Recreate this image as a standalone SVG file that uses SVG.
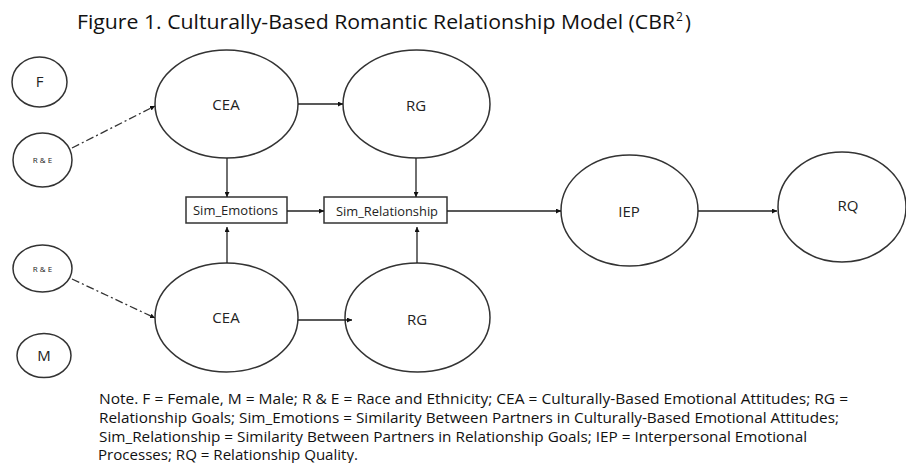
<svg xmlns="http://www.w3.org/2000/svg" width="906" height="463" viewBox="0 0 906 463">
<defs>
<style>
.node{fill:#fff;stroke:#333;stroke-width:1.5}
.lbl{font-family:"Open Sans","Liberation Sans",sans-serif;fill:#222;text-anchor:middle}
.edge{stroke:#222;stroke-width:1.3;fill:none}
.dd{stroke:#333;stroke-width:1.3;fill:none;stroke-dasharray:8 3 2 3}
.txt{font-family:"Open Sans","Liberation Sans",sans-serif;fill:#111}
</style>
<marker id="ah" viewBox="0 0 10 10" refX="10" refY="5" markerWidth="5" markerHeight="5" orient="auto" markerUnits="userSpaceOnUse">
<path d="M0,0 L10,5 L0,10 z" fill="#111"/>
</marker>
</defs>
<rect width="906" height="463" fill="#fff"/>
<g id="title">
<text class="txt" x="77" y="29" font-size="20" textLength="598" lengthAdjust="spacingAndGlyphs">Figure 1. Culturally-Based Romantic Relationship Model (CBR</text>
<text class="txt" x="676" y="21" font-size="12">2</text>
<text class="txt" x="685" y="29" font-size="20">)</text>
</g>
<g id="F"><ellipse class="node" cx="39.5" cy="82" rx="27.5" ry="25"/><text class="lbl" x="39.5" y="87" font-size="15">F</text></g>
<g id="RE1"><ellipse class="node" cx="42.5" cy="160" rx="29.5" ry="27"/><text class="lbl" x="42.5" y="163" font-size="8" fill="#444">R &amp; E</text></g>
<g id="RE2"><ellipse class="node" cx="42.5" cy="268.5" rx="29.5" ry="23.5"/><text class="lbl" x="42.5" y="271.5" font-size="8" fill="#444">R &amp; E</text></g>
<g id="M"><ellipse class="node" cx="44" cy="355.5" rx="27" ry="22"/><text class="lbl" x="44" y="361" font-size="15">M</text></g>
<g id="CEA1"><ellipse class="node" cx="226.5" cy="104" rx="71.5" ry="54"/><text class="lbl" x="226" y="110" font-size="15">CEA</text></g>
<g id="RG1"><ellipse class="node" cx="416.5" cy="104" rx="73.5" ry="54"/><text class="lbl" x="416" y="111" font-size="15">RG</text></g>
<g id="CEA2"><ellipse class="node" cx="226.5" cy="317.5" rx="71.5" ry="54.5"/><text class="lbl" x="226" y="323" font-size="15">CEA</text></g>
<g id="RG2"><ellipse class="node" cx="417.5" cy="317.5" rx="72.5" ry="54.5"/><text class="lbl" x="417" y="325" font-size="15">RG</text></g>
<g id="SimEmotions"><rect class="node" x="186" y="197" width="101" height="26"/><text class="lbl" x="235.5" y="215" font-size="12" textLength="85" lengthAdjust="spacingAndGlyphs">Sim_Emotions</text></g>
<g id="SimRelationship"><rect class="node" x="324" y="197" width="123" height="26"/><text class="lbl" x="387" y="216" font-size="12" textLength="102" lengthAdjust="spacingAndGlyphs">Sim_Relationship</text></g>
<g id="IEP"><ellipse class="node" cx="629.5" cy="210.5" rx="68.5" ry="55.5"/><text class="lbl" x="629" y="217" font-size="15">IEP</text></g>
<g id="RQ"><ellipse class="node" cx="842" cy="207" rx="64" ry="55"/><text class="lbl" x="848" y="211" font-size="15">RQ</text></g>
<g id="connectors">
<line class="dd" x1="72" y1="148" x2="155" y2="106" marker-end="url(#ah)"/>
<line class="dd" x1="72" y1="279" x2="155" y2="318" marker-end="url(#ah)"/>
<line class="edge" x1="298" y1="104" x2="343" y2="104" marker-end="url(#ah)"/>
<line class="edge" x1="227" y1="158" x2="227" y2="197" marker-end="url(#ah)"/>
<line class="edge" x1="416" y1="158" x2="416" y2="197" marker-end="url(#ah)"/>
<line class="edge" x1="227" y1="263" x2="227" y2="227" marker-end="url(#ah)"/>
<line class="edge" x1="417" y1="263" x2="417" y2="227" marker-end="url(#ah)"/>
<line class="edge" x1="287" y1="211" x2="324" y2="211" marker-end="url(#ah)"/>
<line class="edge" x1="447" y1="211" x2="561" y2="211" marker-end="url(#ah)"/>
<line class="edge" x1="698" y1="211" x2="777" y2="211" marker-end="url(#ah)"/>
<line class="edge" x1="298" y1="320" x2="352" y2="320" marker-end="url(#ah)"/>
</g>
<g id="note">
<text class="txt" x="99" y="404" font-size="14.5" textLength="749" lengthAdjust="spacingAndGlyphs">Note. F = Female, M = Male; R &amp; E = Race and Ethnicity; CEA = Culturally-Based Emotional Attitudes; RG =</text>
<text class="txt" x="99" y="423" font-size="14.5" textLength="740" lengthAdjust="spacingAndGlyphs">Relationship Goals; Sim_Emotions = Similarity Between Partners in Culturally-Based Emotional Attitudes;</text>
<text class="txt" x="99" y="442" font-size="14.5" textLength="708" lengthAdjust="spacingAndGlyphs">Sim_Relationship = Similarity Between Partners in Relationship Goals; IEP = Interpersonal Emotional</text>
<text class="txt" x="98" y="460" font-size="14.5" textLength="260" lengthAdjust="spacingAndGlyphs">Processes; RQ = Relationship Quality.</text>
</g>
</svg>
